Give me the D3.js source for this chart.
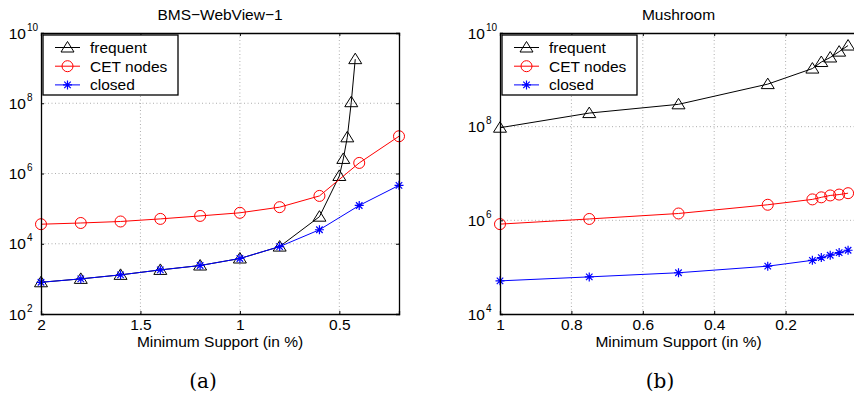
<!DOCTYPE html>
<html>
<head>
<meta charset="utf-8">
<script src="https://cdn.jsdelivr.net/npm/d3@7"></script>
<style>
body { margin: 0; background: #fff; }
svg text { font-family: "Liberation Sans", Arial, sans-serif; fill: #000; }
</style>
</head>
<body>
<div id="chart"></div>
<script>
// BMS-WebView-1
var bmsSupport = [2, 1.8, 1.6, 1.4, 1.2, 1, 0.8, 0.6, 0.4, 0.2];
var bmsFreqSupport = [2, 1.8, 1.6, 1.4, 1.2, 1, 0.8, 0.6, 0.5, 0.48, 0.46, 0.44, 0.42];
var bmsFrequent = [800, 1000, 1300, 1800, 2400, 3800, 8300, 5.9e4, 8.5e5, 2.6e6, 1.07e7, 1.07e8, 1.8e9];
var bmsCET = [3.6e4, 3.9e4, 4.3e4, 5.1e4, 6.2e4, 7.6e4, 1.1e5, 2.3e5, 2.0e6, 1.15e7];
var bmsClosed = [800, 1000, 1300, 1800, 2400, 3800, 8300, 2.5e4, 1.23e5, 4.6e5];
var bmsXTicks = [2, 1.5, 1, 0.5];
var bmsYTicks = [1e2, 1e4, 1e6, 1e8, 1e10];

// Mushroom
var mushSupport = [1, 0.75, 0.5, 0.25, 0.125, 0.1, 0.075, 0.05, 0.025];
var mushFrequent = [9.5e7, 1.95e8, 3.0e8, 8.1e8, 1.74e9, 2.4e9, 3.0e9, 4.0e9, 5.4e9];
var mushCET = [8.3e5, 1.07e6, 1.4e6, 2.15e6, 2.8e6, 3.1e6, 3.4e6, 3.55e6, 3.8e6];
var mushClosed = [5.1e4, 6.2e4, 7.6e4, 1.05e5, 1.4e5, 1.6e5, 1.8e5, 2.05e5, 2.3e5];
var mushXTicks = [1, 0.8, 0.6, 0.4, 0.2];
var mushYTicks = [1e4, 1e6, 1e8, 1e10];

var seriesNames = ["frequent", "CET nodes", "closed"];
var seriesColors = ["#000000", "#ff0000", "#0000ff"];
var seriesShapes = ["tri", "circle", "star"];

var svg = d3.select("#chart").append("svg")
    .attr("width", 854)
    .attr("height", 397);

function marker(g, shape, color, cx, cy) {
  if (shape == "tri") {
    g.append("path")
      .attr("d", "M" + cx + "," + (cy - 6) + "L" + (cx + 6.5) + "," + (cy + 4.5) + "L" + (cx - 6.5) + "," + (cy + 4.5) + "Z")
      .attr("fill", "none").attr("stroke", color).attr("stroke-width", 1);
  } else if (shape == "circle") {
    g.append("circle").attr("cx", cx).attr("cy", cy).attr("r", 5.5)
      .attr("fill", "none").attr("stroke", color).attr("stroke-width", 1);
  } else {
    var r = 4.5, d = r * 0.72;
    g.append("path")
      .attr("d", "M" + (cx - r) + "," + cy + "H" + (cx + r) +
                 "M" + cx + "," + (cy - r) + "V" + (cy + r) +
                 "M" + (cx - d) + "," + (cy - d) + "L" + (cx + d) + "," + (cy + d) +
                 "M" + (cx - d) + "," + (cy + d) + "L" + (cx + d) + "," + (cy - d))
      .attr("fill", "none").attr("stroke", color).attr("stroke-width", 1.2);
  }
}

function panel(cfg) {
  var x = d3.scaleLinear().domain(cfg.xDomain).range([cfg.left, cfg.right]);
  var y = d3.scaleLog().domain(cfg.yDomain).range([314, 33]);
  var g = svg.append("g");

  // grid
  g.selectAll(".gx").data(cfg.xTicks.filter(function(t){ return t != cfg.xDomain[0]; }))
    .enter().append("line")
      .attr("x1", function(d){ return x(d); }).attr("x2", function(d){ return x(d); })
      .attr("y1", 33).attr("y2", 314)
      .attr("stroke", "#999").attr("stroke-width", 0.8).attr("stroke-dasharray", "1,2.5");
  g.selectAll(".gy").data(cfg.yTicks.filter(function(t){ return t != cfg.yDomain[0] && t != cfg.yDomain[1]; }))
    .enter().append("line")
      .attr("x1", cfg.left).attr("x2", cfg.right)
      .attr("y1", function(d){ return y(d); }).attr("y2", function(d){ return y(d); })
      .attr("stroke", "#999").attr("stroke-width", 0.8).attr("stroke-dasharray", "1,2.5");

  // series
  var line = d3.line().x(function(d){ return x(d[0]); }).y(function(d){ return y(d[1]); });
  cfg.series.forEach(function(s, i) {
    var pts = s.xs.map(function(v, j){ return [v, s.ys[j]]; });
    g.append("path").datum(pts).attr("d", line)
      .attr("fill", "none").attr("stroke", seriesColors[i]).attr("stroke-width", 1);
    pts.forEach(function(p){ marker(g, seriesShapes[i], seriesColors[i], x(p[0]), y(p[1])); });
  });

  // axes
  var xAxis = d3.axisBottom(x).tickValues(cfg.xTicks).tickSize(-3).tickPadding(5)
      .tickFormat(function(d){ return String(d); });
  var gx = g.append("g").attr("transform", "translate(0,314)").call(xAxis);
  gx.selectAll("text").style("font-size", "15.5px");
  g.append("g").attr("transform", "translate(0,33)")
    .call(d3.axisTop(x).tickValues(cfg.xTicks).tickSize(-3).tickFormat(""));
  g.append("g").attr("transform", "translate(" + cfg.left + ",0)")
    .call(d3.axisLeft(y).tickValues(cfg.yTicks).tickSize(-3).tickFormat(""));
  g.append("g").attr("transform", "translate(" + cfg.right + ",0)")
    .call(d3.axisRight(y).tickValues(cfg.yTicks).tickSize(-3).tickFormat(""));
  g.selectAll(".domain").attr("stroke-width", 1.3);

  // y labels 10^n
  cfg.yTicks.forEach(function(t) {
    var yy = y(t);
    g.append("text").attr("x", cfg.left - 15).attr("y", yy + 5.6)
      .attr("text-anchor", "end").style("font-size", "15.5px").text("10");
    g.append("text").attr("x", cfg.left - 14).attr("y", yy - 2.5)
      .style("font-size", "10px").text(Math.round(Math.log10(t)));
  });

  // titles
  g.append("text").attr("x", (cfg.left + cfg.right) / 2).attr("y", 20)
    .attr("text-anchor", "middle").style("font-size", "15.5px").text(cfg.title);
  g.append("text").attr("x", (cfg.left + cfg.right) / 2).attr("y", 346.5)
    .attr("text-anchor", "middle").style("font-size", "15.5px").text("Minimum Support (in %)");
  g.append("text").attr("x", cfg.tagX).attr("y", 388)
    .attr("text-anchor", "middle").style("font-size", "20px")
    .style("font-family", "'DejaVu Serif', serif").text(cfg.tag);

  // legend
  var lx = cfg.left + 2, ly = 35;
  var lg = g.append("g");
  lg.append("rect").attr("x", lx).attr("y", ly).attr("width", 135).attr("height", 60)
    .attr("fill", "#fff").attr("stroke", "#000").attr("stroke-width", 1.3);
  seriesNames.forEach(function(n, i) {
    var yy = ly + 12.5 + i * 18.7;
    lg.append("line").attr("x1", lx + 12).attr("x2", lx + 37).attr("y1", yy).attr("y2", yy)
      .attr("stroke", seriesColors[i]).attr("stroke-width", 1);
    marker(lg, seriesShapes[i], seriesColors[i], lx + 24.5, yy);
    lg.append("text").attr("x", lx + 47).attr("y", yy + 5.5).style("font-size", "15.5px").text(n);
  });
}

panel({
  title: "BMS\u2212WebView\u22121", tag: "(a)", tagX: 203,
  left: 41, right: 399, xDomain: [2, 0.2], yDomain: [1e2, 1e10],
  xTicks: bmsXTicks, yTicks: bmsYTicks,
  series: [
    { xs: bmsFreqSupport, ys: bmsFrequent },
    { xs: bmsSupport, ys: bmsCET },
    { xs: bmsSupport, ys: bmsClosed }
  ]
});

panel({
  title: "Mushroom", tag: "(b)", tagX: 660,
  left: 500, right: 857, xDomain: [1, 0], yDomain: [1e4, 1e10],
  xTicks: mushXTicks, yTicks: mushYTicks,
  series: [
    { xs: mushSupport, ys: mushFrequent },
    { xs: mushSupport, ys: mushCET },
    { xs: mushSupport, ys: mushClosed }
  ]
});
</script>
</body>
</html>
